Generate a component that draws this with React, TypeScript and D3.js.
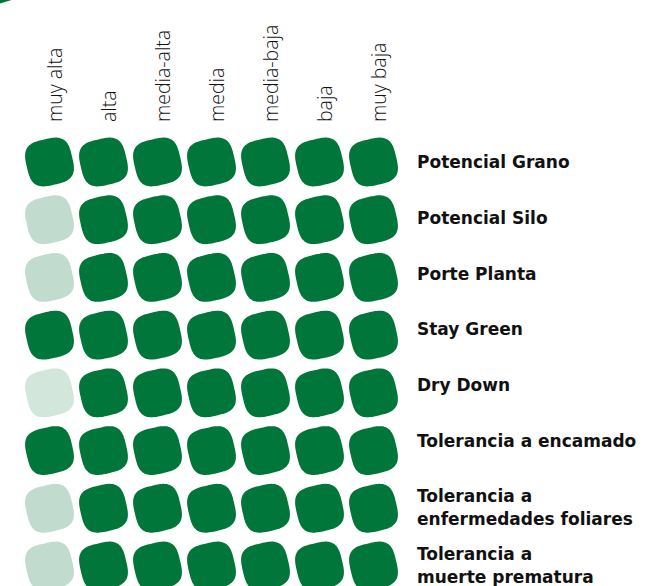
import React from "react";
import * as d3 from "d3";

const columns = ["muy alta", "alta", "media-alta", "media", "media-baja", "baja", "muy baja"];
const rowLabels: string[][] = [
  ["Potencial Grano"],
  ["Potencial Silo"],
  ["Porte Planta"],
  ["Stay Green"],
  ["Dry Down"],
  ["Tolerancia a encamado"],
  ["Tolerancia a", "enfermedades foliares"],
  ["Tolerancia a", "muerte prematura"],
];
// level per cell: 2 = full, 1 = light, 0 = lightest
const potencialGrano = [2, 2, 2, 2, 2, 2, 2];
const potencialSilo = [1, 2, 2, 2, 2, 2, 2];
const portePlanta = [1, 2, 2, 2, 2, 2, 2];
const stayGreen = [2, 2, 2, 2, 2, 2, 2];
const dryDown = [0, 2, 2, 2, 2, 2, 2];
const encamado = [2, 2, 2, 2, 2, 2, 2];
const foliares = [1, 2, 2, 2, 2, 2, 2];
const prematura = [1, 2, 2, 2, 2, 2, 2];
const values = [potencialGrano, potencialSilo, portePlanta, stayGreen, dryDown, encamado, foliares, prematura];

const W = 645;
const H = 586;
const GREEN = "#00763A";

function squirclePath(a: number, n: number, rotDeg: number): string {
  const th = (rotDeg * Math.PI) / 180;
  const pts: [number, number][] = d3.range(0, 120).map((i) => {
    const t = (i / 120) * Math.PI * 2;
    const c = Math.cos(t);
    const s = Math.sin(t);
    const x = a * Math.sign(c) * Math.pow(Math.abs(c), 2 / n);
    const y = a * Math.sign(s) * Math.pow(Math.abs(s), 2 / n);
    return [x * Math.cos(th) - y * Math.sin(th), x * Math.sin(th) + y * Math.cos(th)];
  });
  return d3.line().curve(d3.curveCardinalClosed)(pts) || "";
}

export default function App() {
  const rowIds = rowLabels.map((_, i) => String(i));
  const x = d3.scalePoint<string>().domain(columns).range([49.5, 373.5]);
  const y = d3.scalePoint<string>().domain(rowIds).range([162, 566]);
  const labelY = d3.scaleLinear().domain([0, 5]).range([168, 447]);
  const color = d3.scaleOrdinal<number, string>().domain([0, 1, 2]).range(["#D2E6DB", "#C1DCCF", GREEN]);
  const shape = squirclePath(23.2, 3.2, -13);

  return (
    <svg
      width={W}
      height={H}
      viewBox={`0 0 ${W} ${H}`}
      style={{ position: "absolute", left: 0, top: 0, background: "#fff" }}
    >
      <circle cx={-30} cy={-120} r={127} fill={GREEN} />
      {columns.map((c) => (
        <text
          key={c}
          transform={`translate(${(x(c) ?? 0) + 12},122) rotate(-90)`}
          fontFamily="'Open Sans', sans-serif"
          fontWeight={300}
          fontSize={19.5}
          fill="#111"
        >
          {c}
        </text>
      ))}
      {values.map((row, ri) =>
        row.map((v, ci) => (
          <path
            key={`${ri}-${ci}`}
            d={shape}
            transform={`translate(${x(columns[ci])},${y(String(ri))})`}
            fill={color(v)}
          />
        ))
      )}
      {rowLabels.map((lines, ri) => {
        const cy = y(String(ri)) ?? 0;
        const base = lines.length === 1 ? labelY(ri) : cy - 6;
        return (
          <text
            key={ri}
            x={417}
            y={base}
            fontFamily="'DejaVu Sans', sans-serif"
            fontWeight={700}
            fontSize={17}
            fill="#111"
          >
            {lines.map((l, li) => (
              <tspan key={li} x={417} dy={li === 0 ? 0 : 23}>
                {l}
              </tspan>
            ))}
          </text>
        );
      })}
    </svg>
  );
}
